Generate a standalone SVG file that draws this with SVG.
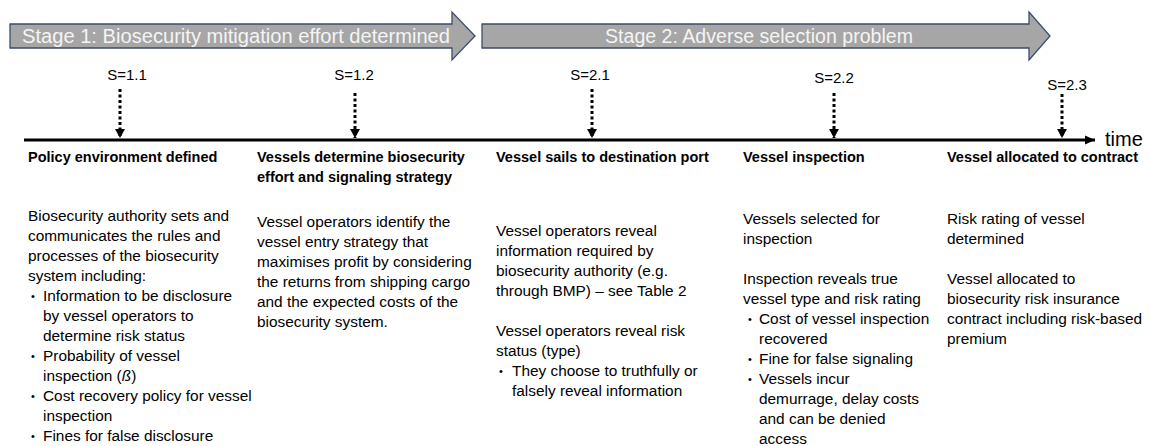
<svg xmlns="http://www.w3.org/2000/svg" width="1150" height="446" viewBox="0 0 1150 446">
  <style>
    .stage { fill: #a6a6a6; stroke: #3b4e6b; stroke-width: 1.3; }
    .stage-label { font-family: "Liberation Sans", Arial, sans-serif; font-size: 19.5px; fill: #f4f4f4; }
    .step { font-family: "Liberation Sans", Arial, sans-serif; font-size: 15px; fill: #000; text-anchor: middle; }
    .head { font-family: "Liberation Sans", Arial, sans-serif; font-size: 14.5px; font-weight: bold; fill: #000; }
    .body { font-family: "Liberation Sans", Arial, sans-serif; font-size: 15.4px; fill: #000; }
    .dot { font-size: 11px; }
    .time { font-family: "Liberation Sans", Arial, sans-serif; font-size: 20px; fill: #000; }
    .dotted { stroke: #000; stroke-width: 3; stroke-dasharray: 3 2.5; fill: none; }
    .axis { stroke: #000; stroke-width: 3; fill: none; }
  </style>
  <defs>
    <marker id="dothead" markerUnits="userSpaceOnUse" markerWidth="10" markerHeight="10" viewBox="0 -5 10 10" refX="9" refY="0" orient="auto">
      <path d="M0,-5 L9,0 L0,5 z" fill="#000"/>
    </marker>
    <marker id="axishead" markerUnits="userSpaceOnUse" markerWidth="11" markerHeight="10" viewBox="0 -5 11 10" refX="10" refY="0" orient="auto">
      <path d="M0,-4.5 L10,0 L0,4.5 z" fill="#000"/>
    </marker>
  </defs>

  <!-- stage banners -->
  <g id="stage1">
    <path class="stage" d="M10,24 H452 V12 L475,36 L452,60 V48 H10 Z"/>
    <text class="stage-label" x="22" y="43" textLength="428" lengthAdjust="spacingAndGlyphs">Stage 1: Biosecurity mitigation effort determined</text>
  </g>
  <g id="stage2">
    <path class="stage" d="M482,24 H1029 V12 L1050,36 L1029,60 V48 H482 Z"/>
    <text class="stage-label" x="605" y="43" textLength="308" lengthAdjust="spacingAndGlyphs">Stage 2: Adverse selection problem</text>
  </g>

  <!-- step labels -->
  <g id="step-1-1"><text class="step" x="127" y="80">S=1.1</text></g>
  <g id="step-1-2"><text class="step" x="354" y="80">S=1.2</text></g>
  <g id="step-2-1"><text class="step" x="590" y="80">S=2.1</text></g>
  <g id="step-2-2"><text class="step" x="834" y="83">S=2.2</text></g>
  <g id="step-2-3"><text class="step" x="1067" y="90">S=2.3</text></g>

  <!-- connectors: time axis and step pointers -->
  <g id="connectors">
    <line class="axis" x1="24" y1="140" x2="1095" y2="140" marker-end="url(#axishead)"/>
    <line class="dotted" x1="120" y1="89" x2="120" y2="138" marker-end="url(#dothead)"/>
    <line class="dotted" x1="355" y1="93" x2="355" y2="138" marker-end="url(#dothead)"/>
    <line class="dotted" x1="592" y1="89" x2="592" y2="138" marker-end="url(#dothead)"/>
    <line class="dotted" x1="834" y1="93" x2="834" y2="138" marker-end="url(#dothead)"/>
    <line class="dotted" x1="1062" y1="94" x2="1062" y2="138" marker-end="url(#dothead)"/>
  </g>
  <g id="time-label"><text class="time" x="1105" y="146">time</text></g>

  <!-- column 1 -->
  <g id="policy-environment">
    <text class="head" x="28" y="162">Policy environment defined</text>
    <text class="body">
      <tspan x="28" y="221">Biosecurity authority sets and</tspan>
      <tspan x="28" y="241">communicates the rules and</tspan>
      <tspan x="28" y="261">processes of the biosecurity</tspan>
      <tspan x="28" y="281">system including:</tspan>
      <tspan class="dot" x="31" y="300">•</tspan><tspan x="43" y="301">Information to be disclosure</tspan>
      <tspan x="43" y="321">by vessel operators to</tspan>
      <tspan x="43" y="341">determine risk status</tspan>
      <tspan class="dot" x="31" y="360">•</tspan><tspan x="43" y="361">Probability of vessel</tspan>
      <tspan x="43" y="381">inspection (<tspan font-style="italic">ß</tspan>)</tspan>
      <tspan class="dot" x="31" y="400">•</tspan><tspan x="43" y="401">Cost recovery policy for vessel</tspan>
      <tspan x="43" y="421">inspection</tspan>
      <tspan class="dot" x="31" y="440">•</tspan><tspan x="43" y="441">Fines for false disclosure</tspan>
    </text>
  </g>

  <!-- column 2 -->
  <g id="vessel-strategy">
    <text class="head">
      <tspan x="257" y="162">Vessels determine biosecurity</tspan>
      <tspan x="257" y="182">effort and signaling strategy</tspan>
    </text>
    <text class="body">
      <tspan x="257" y="227">Vessel operators identify the</tspan>
      <tspan x="257" y="247">vessel entry strategy that</tspan>
      <tspan x="257" y="267">maximises profit by considering</tspan>
      <tspan x="257" y="287">the returns from shipping cargo</tspan>
      <tspan x="257" y="307">and the expected costs of the</tspan>
      <tspan x="257" y="327">biosecurity system.</tspan>
    </text>
  </g>

  <!-- column 3 -->
  <g id="vessel-sails">
    <text class="head" x="496" y="162">Vessel sails to destination port</text>
    <text class="body">
      <tspan x="496" y="236">Vessel operators reveal</tspan>
      <tspan x="496" y="256">information required by</tspan>
      <tspan x="496" y="276">biosecurity authority (e.g.</tspan>
      <tspan x="496" y="296">through BMP) – see Table 2</tspan>
      <tspan x="496" y="336">Vessel operators reveal risk</tspan>
      <tspan x="496" y="356">status (type)</tspan>
      <tspan class="dot" x="499" y="375">•</tspan><tspan x="512" y="376">They choose to truthfully or</tspan>
      <tspan x="512" y="396">falsely reveal information</tspan>
    </text>
  </g>

  <!-- column 4 -->
  <g id="vessel-inspection">
    <text class="head" x="743" y="162">Vessel inspection</text>
    <text class="body">
      <tspan x="743" y="224">Vessels selected for</tspan>
      <tspan x="743" y="244">inspection</tspan>
      <tspan x="743" y="284">Inspection reveals true</tspan>
      <tspan x="743" y="304">vessel type and risk rating</tspan>
      <tspan class="dot" x="748" y="323">•</tspan><tspan x="759" y="324">Cost of vessel inspection</tspan>
      <tspan x="759" y="344">recovered</tspan>
      <tspan class="dot" x="748" y="363">•</tspan><tspan x="759" y="364">Fine for false signaling</tspan>
      <tspan class="dot" x="748" y="383">•</tspan><tspan x="759" y="384">Vessels incur</tspan>
      <tspan x="759" y="404">demurrage, delay costs</tspan>
      <tspan x="759" y="424">and can be denied</tspan>
      <tspan x="759" y="444">access</tspan>
    </text>
  </g>

  <!-- column 5 -->
  <g id="contract-allocation">
    <text class="head" x="947" y="162">Vessel allocated to contract</text>
    <text class="body">
      <tspan x="947" y="224">Risk rating of vessel</tspan>
      <tspan x="947" y="244">determined</tspan>
      <tspan x="947" y="284">Vessel allocated to</tspan>
      <tspan x="947" y="304">biosecurity risk insurance</tspan>
      <tspan x="947" y="324">contract including risk-based</tspan>
      <tspan x="947" y="344">premium</tspan>
    </text>
  </g>
</svg>
